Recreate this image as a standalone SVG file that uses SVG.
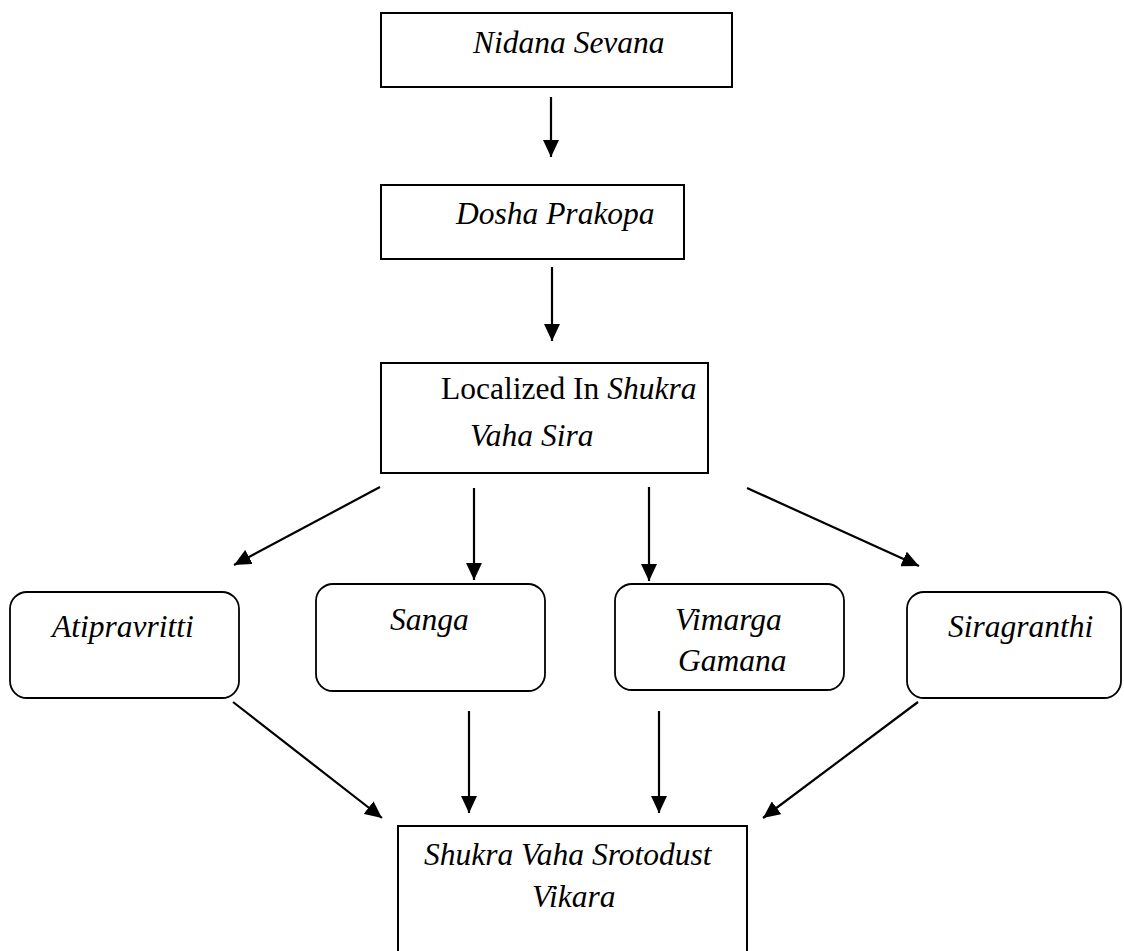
<svg xmlns="http://www.w3.org/2000/svg" width="1124" height="951" viewBox="0 0 1124 951">
<style>
.box{fill:#fff;stroke:#000;stroke-width:2}
.rbox{fill:#fff;stroke:#000;stroke-width:1.8}
.t{font-family:"Liberation Serif","Times New Roman",serif;font-size:31.5px;font-style:italic;fill:#000}
.u{font-style:normal}
.c{stroke:#000;stroke-width:2.2;fill:none;marker-end:url(#ah)}
</style>
<defs>
<marker id="ah" markerUnits="userSpaceOnUse" markerWidth="17" markerHeight="16" refX="17" refY="8" orient="auto">
<path d="M0,0 L17,8 L0,16 z" fill="#000"/>
</marker>
</defs>
<rect width="1124" height="951" fill="#fff"/>
<g id="connectors">
<line class="c" x1="551" y1="97" x2="551" y2="157"/>
<line class="c" x1="552" y1="267" x2="552" y2="341"/>
<line class="c" x1="380" y1="487" x2="234" y2="565"/>
<line class="c" x1="474" y1="488" x2="474" y2="580"/>
<line class="c" x1="649" y1="487" x2="649" y2="581"/>
<line class="c" x1="747" y1="488" x2="919" y2="566"/>
<line class="c" x1="233" y1="702" x2="382" y2="818"/>
<line class="c" x1="469" y1="711" x2="469" y2="813"/>
<line class="c" x1="659" y1="711" x2="659" y2="813"/>
<line class="c" x1="918" y1="702" x2="763" y2="818"/>
</g>
<g id="nidana">
<rect class="box" x="381" y="13" width="351" height="74"/>
<text class="t" x="473" y="53">Nidana Sevana</text>
</g>
<g id="dosha">
<rect class="box" x="381" y="185" width="303" height="74"/>
<text class="t" x="456" y="224">Dosha Prakopa</text>
</g>
<g id="localized">
<rect class="box" x="381" y="363" width="327" height="110"/>
<text class="t" x="441" y="399"><tspan class="u">Localized In </tspan>Shukra</text>
<text class="t" x="470" y="446">Vaha Sira</text>
</g>
<g id="atipravritti">
<rect class="rbox" x="10" y="592" width="229" height="106" rx="17"/>
<text class="t" x="52" y="637">Atipravritti</text>
</g>
<g id="sanga">
<rect class="rbox" x="316" y="584" width="229" height="107" rx="17"/>
<text class="t" x="390" y="630">Sanga</text>
</g>
<g id="vimarga">
<rect class="rbox" x="615" y="584" width="229" height="106" rx="17"/>
<text class="t" x="675" y="630">Vimarga</text>
<text class="t" x="678" y="671">Gamana</text>
</g>
<g id="siragranthi">
<rect class="rbox" x="907" y="592" width="214" height="106" rx="17"/>
<text class="t" x="948" y="637">Siragranthi</text>
</g>
<g id="vikara">
<rect class="box" x="398" y="826" width="349" height="140"/>
<text class="t" x="424" y="865">Shukra Vaha Srotodust</text>
<text class="t" x="532" y="907">Vikara</text>
</g>
</svg>
